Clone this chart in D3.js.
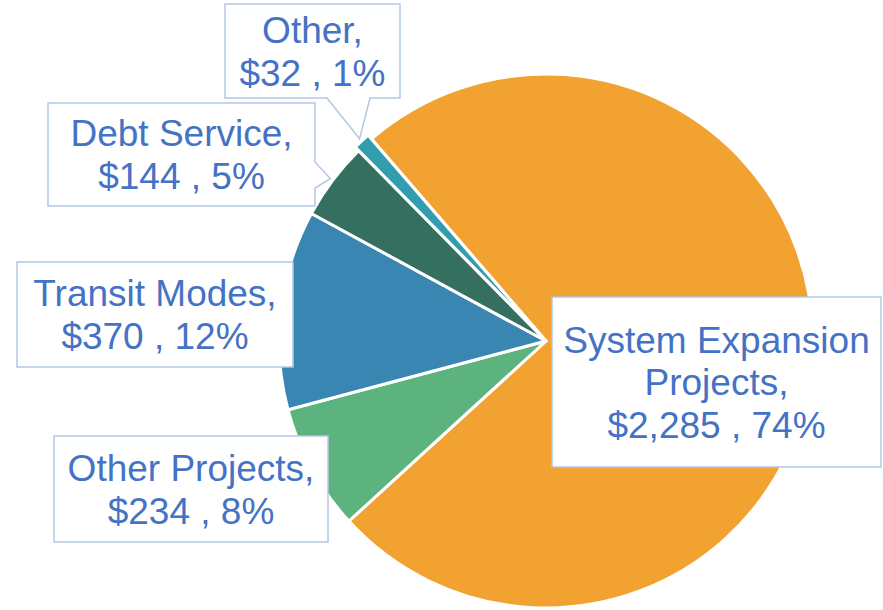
<!DOCTYPE html>
<html>
<head>
<meta charset="utf-8">
<script src="https://cdn.jsdelivr.net/npm/d3@7"></script>
<style>
  body { margin: 0; background: #fff; }
  svg { display: block; }
  .lbl { font-family: "Liberation Sans", Arial, sans-serif; font-size: 37px; fill: #4472C4; }
</style>
</head>
<body>
<div id="chart"></div>
<script>
// data
var categories = ["System Expansion Projects", "Other Projects", "Transit Modes", "Debt Service", "Other"]
var amounts = [2285, 234, 370, 144, 32]
var percents = [74, 8, 12, 5, 1]
var colors = ["#F2A231", "#5DB37E", "#3A86B2", "#356F5F", "#319DAE"]

// label lines as Excel wrapped them
var labelLines = [
    ["System Expansion", "Projects,"],
    ["Other Projects,"],
    ["Transit Modes,"],
    ["Debt Service,"],
    ["Other,"]
]

// callout boxes (layout only); ptr = side + start/end of pointer base along that side
var boxes = [
    {x: 552, y: 297, w: 329, h: 170, ptr: null},
    {x: 54, y: 436, w: 274, h: 106, ptr: null},
    {x: 17, y: 262, w: 276, h: 105, ptr: null},
    {x: 48, y: 103, w: 267, h: 103, ptr: {side: "right", a: 59, b: 85}},
    {x: 225, y: 4, w: 175, h: 94, ptr: {side: "bottom", a: 102, b: 145}}
]

var width = 883, height = 610
var cx = 546, cy = 341, radius = 267
var startAngle = -40.8 * Math.PI / 180

var svg = d3.select("#chart").append("svg")
    .attr("width", width)
    .attr("height", height)

var pie = d3.pie()
    .sort(null)
    .value(d => d)
    .startAngle(startAngle)
    .endAngle(startAngle + 2 * Math.PI)

var arcs = pie(amounts)
var arc = d3.arc().innerRadius(0).outerRadius(radius)

var g = svg.append("g").attr("transform", "translate(" + cx + "," + cy + ")")

// small slice is pulled out a little
function explode(i) {
    return i == 4 ? 5 : 0
}

g.selectAll(".slice")
    .data(arcs)
    .enter().append("path")
    .attr("class", "slice")
    .attr("d", arc)
    .attr("transform", (d, i) => {
        var mid = (d.startAngle + d.endAngle) / 2
        var p = d3.pointRadial(mid, explode(i))
        return "translate(" + p[0] + "," + p[1] + ")"
    })
    .style("fill", (d, i) => colors[i])
    .style("stroke", "#fff")
    .style("stroke-width", 3)
    .style("stroke-linejoin", "round")

function calloutPath(b, tip) {
    var x0 = b.x, y0 = b.y, x1 = b.x + b.w, y1 = b.y + b.h
    var p = b.ptr
    var pts = [[x0, y0], [x1, y0]]
    if (p && p.side == "right") {
        pts.push([x1, y0 + p.a], tip, [x1, y0 + p.b])
    }
    pts.push([x1, y1])
    if (p && p.side == "bottom") {
        pts.push([x0 + p.b, y1], tip, [x0 + p.a, y1])
    }
    pts.push([x0, y1])
    return "M" + pts.map(q => q[0] + "," + q[1]).join("L") + "Z"
}

var lineH = 42.7
var capH = 26.5

arcs.forEach(function(d, i) {
    var b = boxes[i]
    var mid = (d.startAngle + d.endAngle) / 2
    var t = d3.pointRadial(mid, radius + 3 + explode(i))
    var tip = [cx + t[0], cy + t[1]]

    svg.append("path")
        .attr("d", calloutPath(b, tip))
        .style("fill", "#fff")
        .style("stroke", "#B4C6E7")
        .style("stroke-width", 1.5)

    var lines = labelLines[i].concat(["$" + d3.format(",")(amounts[i]) + " , " + percents[i] + "%"])
    var mx = b.x + b.w / 2, my = b.y + b.h / 2
    var n = lines.length

    svg.append("text")
        .attr("class", "lbl")
        .attr("text-anchor", "middle")
        .selectAll("tspan")
        .data(lines)
        .enter().append("tspan")
        .attr("x", mx)
        .attr("y", (s, k) => my + (k - (n - 1) / 2) * lineH + capH / 2)
        .text(s => s)
})
</script>
</body>
</html>
